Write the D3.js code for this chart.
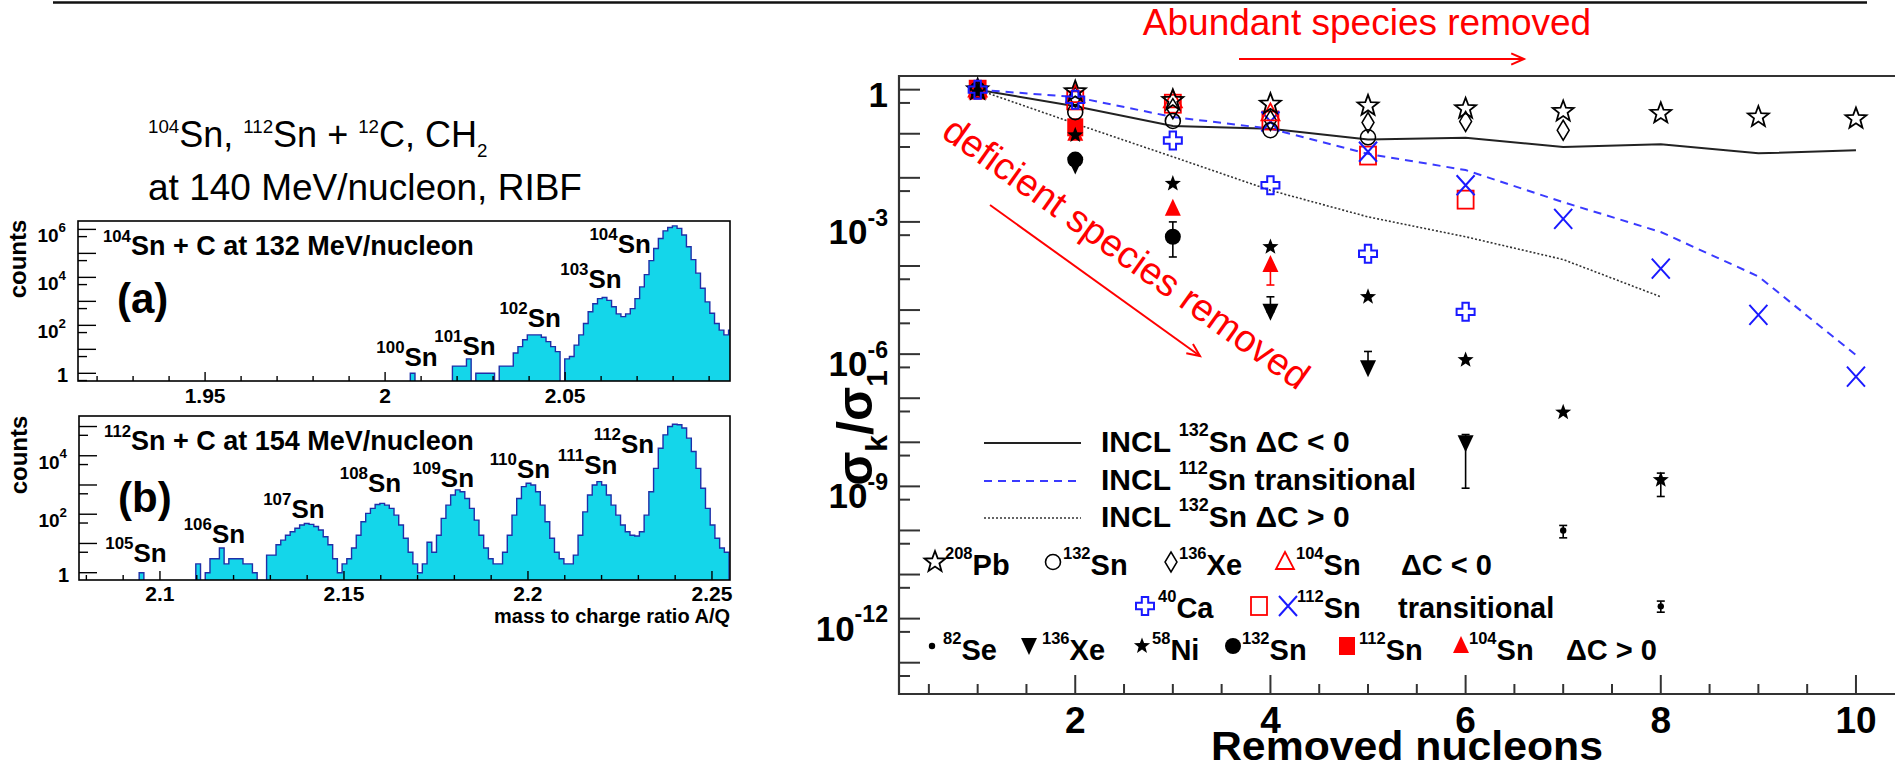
<!DOCTYPE html>
<html><head><meta charset="utf-8">
<script src="https://cdn.jsdelivr.net/npm/d3@7"></script>
<style>
html,body{margin:0;padding:0;background:#fff;overflow:hidden;}
svg{display:block;}
text{font-family:"Liberation Sans",Arial,Helvetica,sans-serif;}
</style></head><body>
<svg id="c" width="1895" height="769"></svg>
<script>
// ================= DATA =================
const removedNucleons = [1,2,3,4,5,6,7,8,9,10];
// Delta C < 0
const pb208Open   = [[1,1],[2,0.9],[3,0.57],[4,0.47],[5,0.43],[6,0.37],[7,0.32],[8,0.29],[9,0.24],[10,0.22]];
const sn132Open   = [[1,1],[2,0.31],[3,0.195],[4,0.12],[5,0.083]];
const xe136Open   = [[2,0.68],[3,0.37],[4,0.2],[5,0.18],[6,0.19],[7,0.12]];
const sn104Open   = [[1,1],[2,0.75],[3,0.57],[4,0.29]];
// transitional
const ca40Open    = [[1,1],[2,0.59],[3,0.07],[4,0.0068],[5,1.9e-4],[6,9.1e-6]];
const sn112Square = [[1,1],[2,0.57],[3,0.48],[4,0.2],[5,0.032],[6,0.0032]];
const sn112Cross  = [[4,0.19],[5,0.039],[6,0.0068],[7,0.00117],[8,8.7e-5],[9,7.8e-6],[10,3.1e-7]];
// Delta C > 0
const se82Dot     = [[7,1.0e-10],[8,1.9e-12]];
const se82Err     = [[7,6.8e-11,1.3e-10],[8,1.4e-12,2.5e-12]];
const xe136Filled = [[2,0.019],[4,9.1e-6],[5,4.8e-7],[6,9.5e-9]];
const xe136Err    = [[4,9.1e-6,2.0e-5],[5,4.8e-7,1.15e-6],[6,9.1e-10,1.5e-8]];
const ni58Filled  = [[1,1],[2,0.093],[3,7.4e-3],[4,2.7e-4],[5,2.0e-5],[6,7.4e-7],[7,4.8e-8],[8,1.4e-9]];
const ni58Err     = [[8,5.9e-10,2.0e-9]];
const sn132Filled = [[1,1],[2,0.026],[3,4.6e-4]];
const sn132Err    = [[3,1.6e-4,1.0e-3]];
const sn112Filled = [[1,1],[2,0.14]];
const sn104Filled = [[2,0.1],[3,2.0e-3],[4,1.05e-4]];
const sn104Err    = [[4,3.7e-5,1.05e-4]];
// INCL calculations
const inclSn132Neg   = [1,0.42,0.15,0.13,0.074,0.081,0.05,0.058,0.036,0.042];
const inclSn112Trans = [1,0.68,0.24,0.13,0.035,0.015,0.0028,5.9e-4,5.8e-5,9.5e-7];
const inclSn132Pos   = [1,0.17,0.03,0.0052,0.0013,4.6e-4,1.4e-4,2.0e-5];

const rightXTickLabels = [2,4,6,8,10];
const rightYTickExponents = [0,-3,-6,-9,-12];

// Left panel (a): 104Sn + C, A/Q histogram
const histAStart = 2.0070, histABin = 0.0013;
const histACounts = [1,0,0,0,0,0,0,0,0,2,2,2,4,0,1,1,1,1,0,2,2,2,7,13,25,40,40,40,32,21,13,8,0,4,5,15,40,120,370,800,1300,1450,1100,600,300,230,300,500,1300,4000,13000,50000,160000,420000,870000,1200000,1400000,1100000,580000,190000,55000,15000,3500,950,320,120,63,40,63];
const histATicks = [1.95,2,2.05];
const histAYExp = [0,2,4,6];
const histALabels = [["^{100}Sn",2.0061],["^{101}Sn",2.0222],["^{102}Sn",2.0403],["^{103}Sn",2.0572],["^{104}Sn",2.0653]];

// Left panel (b): 112Sn + C, A/Q histogram
const histBStart = 2.09435, histBBin = 0.0012824;
const histBCounts = [1,0,0,0,0,0,0,0,0,0,0,0,2,0,1,3,3,7,2,3,3,3,2,2,1,0,0,4,4,9,13,19,25,33,43,48,45,38,29,17,9,3,1,2,3,7,19,55,107,158,215,235,204,158,93,43,15,5,2,1,2,11,5,19,72,204,457,680,590,347,158,63,19,7,3,2,2,5,19,93,347,880,1150,1000,590,204,55,15,5,3,2,2,4,19,120,457,1000,1300,1000,457,204,93,43,25,19,18,25,93,590,3700,18000,52000,100000,120000,115000,89000,40000,14000,3700,775,158,43,15,7,5];
const histBTicks = [2.1,2.15,2.2,2.25];
const histBYExp = [0,2,4];
const histBLabels = [["^{105}Sn",2.0935],["^{106}Sn",2.1148],["^{107}Sn",2.1364],["^{108}Sn",2.1572],["^{109}Sn",2.177],["^{110}Sn",2.1978],["^{111}Sn",2.2162],["^{112}Sn",2.2261]];

// ================= HELPERS =================
const svg = d3.select('#c');
const FONT = '"Liberation Sans",Arial,Helvetica,sans-serif';

function parseRich(s){
  const out=[]; const re=/(\^\{[^}]*\}|_\{[^}]*\})/g; let last=0, m;
  while((m=re.exec(s))){ if(m.index>last) out.push({t:s.slice(last,m.index)});
    out.push({t:m[0].slice(2,-1), sup:m[0][0]==='^', sub:m[0][0]==='_'}); last=re.lastIndex; }
  if(last<s.length) out.push({t:s.slice(last)}); return out;
}
function rich(g, x, y, str, size, o={}){
  const t=g.append('text').attr('x',x).attr('y',y).attr('font-size',size)
    .attr('font-weight',o.weight||'bold').attr('fill',o.fill||'#000')
    .attr('text-anchor',o.anchor||'start').attr('font-family',FONT);
  if(o.transform) t.attr('transform',o.transform);
  const sc=o.supScale||0.58, up=o.supUp||0.5, dn=o.subDown||0.25;
  let cur=0;
  parseRich(str).forEach(p=>{
    let target=0, fs=size;
    if(p.sup){target=-size*up; fs=size*sc;}
    if(p.sub){target=size*dn; fs=size*sc;}
    t.append('tspan').attr('dy',target-cur).attr('font-size',fs).text(p.t);
    cur=target;
  });
  return t;
}

function starPath(R){
  const r=R*0.42, pts=[];
  for(let i=0;i<10;i++){const a=-Math.PI/2+i*Math.PI/5, rr=i%2?r:R; pts.push([rr*Math.cos(a), rr*Math.sin(a)]);}
  return 'M'+pts.map(p=>p[0].toFixed(2)+','+p[1].toFixed(2)).join('L')+'Z';
}
function crossPath(s,w){
  return `M${-w},${-s}L${w},${-s}L${w},${-w}L${s},${-w}L${s},${w}L${w},${w}L${w},${s}L${-w},${s}L${-w},${w}L${-s},${w}L${-s},${-w}L${-w},${-w}Z`;
}
function marker(g, type, cx, cy){
  const red='#ff0000', blue='#1a1aff';
  switch(type){
    case 'starOpen': g.append('path').attr('d',starPath(11)).attr('transform',`translate(${cx},${cy})`).attr('fill','none').attr('stroke','#000').attr('stroke-width',1.8); break;
    case 'starFilled': g.append('path').attr('d',starPath(8.5)).attr('transform',`translate(${cx},${cy})`).attr('fill','#000'); break;
    case 'circleOpen': g.append('circle').attr('cx',cx).attr('cy',cy).attr('r',7.5).attr('fill','none').attr('stroke','#000').attr('stroke-width',1.6); break;
    case 'circleFilled': g.append('circle').attr('cx',cx).attr('cy',cy).attr('r',8).attr('fill','#000'); break;
    case 'diamondOpen': g.append('path').attr('d','M0,-10L6,0L0,10L-6,0Z').attr('transform',`translate(${cx},${cy})`).attr('fill','none').attr('stroke','#000').attr('stroke-width',1.5); break;
    case 'triUpOpen': g.append('path').attr('d','M0,-10L9,7L-9,7Z').attr('transform',`translate(${cx},${cy})`).attr('fill','none').attr('stroke',red).attr('stroke-width',1.8); break;
    case 'triUpFilled': g.append('path').attr('d','M0,-10L8,7L-8,7Z').attr('transform',`translate(${cx},${cy})`).attr('fill',red); break;
    case 'triDownFilled': g.append('path').attr('d','M0,9L8,-8L-8,-8Z').attr('transform',`translate(${cx},${cy})`).attr('fill','#000'); break;
    case 'crossOpen': g.append('path').attr('d',crossPath(9,3.2)).attr('transform',`translate(${cx},${cy})`).attr('fill','none').attr('stroke',blue).attr('stroke-width',2); break;
    case 'squareOpen': g.append('rect').attr('x',cx-8).attr('y',cy-9).attr('width',16).attr('height',18).attr('fill','none').attr('stroke',red).attr('stroke-width',1.8); break;
    case 'squareFilled': g.append('rect').attr('x',cx-8).attr('y',cy-9).attr('width',16).attr('height',18).attr('fill',red); break;
    case 'xMark': g.append('path').attr('d','M-9,-10L9,10M9,-10L-9,10').attr('transform',`translate(${cx},${cy})`).attr('fill','none').attr('stroke',blue).attr('stroke-width',2); break;
    case 'dot': g.append('circle').attr('cx',cx).attr('cy',cy).attr('r',3.2).attr('fill','#000'); break;
  }
}

// ================= PAGE DECORATION =================
svg.append('line').attr('x1',53).attr('x2',1867).attr('y1',2.5).attr('y2',2.5).attr('stroke','#111').attr('stroke-width',2.5);
rich(svg,148,147,'^{104}Sn, ^{112}Sn + ^{12}C, CH_{2}',36,{weight:'normal',supScale:0.52,supUp:0.38,subDown:0.28});
svg.append('text').attr('x',148).attr('y',200).attr('font-size',37).attr('font-family',FONT).text('at 140 MeV/nucleon, RIBF');

// ================= LEFT HISTOGRAM PANELS =================
function histPanel(cfg){
  const g=svg.append('g');
  const x=d3.scaleLinear().domain(cfg.xDomain).range([cfg.left,cfg.right]);
  const y=d3.scaleLog().domain(cfg.yDomain).range([cfg.bottom,cfg.top]);
  const clipId='clip'+cfg.id;
  svg.append('clipPath').attr('id',clipId).append('rect').attr('x',cfg.left).attr('y',cfg.top).attr('width',cfg.right-cfg.left).attr('height',cfg.bottom-cfg.top);
  const yb=cfg.bottom+2;
  let d=`M${x(cfg.start)},${yb}`;
  cfg.counts.forEach((c,i)=>{
    const x0=x(cfg.start+i*cfg.bin), x1=x(cfg.start+(i+1)*cfg.bin);
    const yy=c>0?y(c):yb;
    d+=`L${x0},${yy}L${x1},${yy}`;
  });
  d+=`L${x(cfg.start+cfg.counts.length*cfg.bin)},${yb}Z`;
  g.append('path').attr('d',d).attr('clip-path',`url(#${clipId})`).attr('fill','#14d6ea').attr('stroke','#1f2fa8').attr('stroke-width',1.4);
  g.append('rect').attr('x',cfg.left).attr('y',cfg.top).attr('width',cfg.right-cfg.left).attr('height',cfg.bottom-cfg.top).attr('fill','none').attr('stroke','#000').attr('stroke-width',1.6);
  const lo=Math.floor(Math.log10(cfg.yDomain[0])), hi=Math.ceil(Math.log10(cfg.yDomain[1]));
  for(let e=lo;e<=hi;e++){
    [[Math.pow(10,e),18],[5*Math.pow(10,e),9]].forEach(([v,len])=>{
      if(v<cfg.yDomain[0]||v>cfg.yDomain[1]) return;
      g.append('line').attr('x1',cfg.left).attr('x2',cfg.left+len).attr('y1',y(v)).attr('y2',y(v)).attr('stroke','#000').attr('stroke-width',1.4);
    });
  }
  cfg.yExp.forEach(e=>{
    if(e===0) rich(g,cfg.left-10,y(1)+9,'1',20,{anchor:'end'});
    else rich(g,cfg.left-12,y(Math.pow(10,e))+13,'10^{'+e+'}',19,{anchor:'end',supScale:0.7,supUp:0.55});
  });
  const t0=Math.ceil(cfg.xDomain[0]*100), t1=Math.floor(cfg.xDomain[1]*100);
  for(let k=t0;k<=t1;k++){
    const v=k/100, major=(k%5===0);
    g.append('line').attr('x1',x(v)).attr('x2',x(v)).attr('y1',cfg.bottom).attr('y2',cfg.bottom-(major?9:5)).attr('stroke','#000').attr('stroke-width',1.4);
  }
  cfg.xTicks.forEach(v=>{
    g.append('text').attr('x',x(v)).attr('y',cfg.bottom+cfg.tickLabelDy).attr('text-anchor','middle').attr('font-size',21).attr('font-weight','bold').attr('font-family',FONT).text(String(v));
  });
  g.append('text').attr('transform',`translate(${cfg.countsX},${cfg.countsY}) rotate(-90)`).attr('text-anchor','middle').attr('font-size',24).attr('font-weight','bold').attr('font-family',FONT).text('counts');
  rich(g,cfg.left+25,cfg.headY,cfg.head,27,{supScale:0.62});
  g.append('text').attr('x',cfg.left+39).attr('y',cfg.letterY).attr('font-size',42).attr('font-weight','bold').attr('font-family',FONT).text(cfg.letter);
  cfg.labels.forEach(([lab,xv],i)=>{
    rich(g,x(xv),cfg.labelY[i],lab,26,{anchor:'middle',supScale:0.65,supUp:0.5});
  });
  return {x,y,g};
}

histPanel({id:'a',left:78,right:730,top:221,bottom:381,
  xDomain:[1.9147,2.0958], yDomain:[Math.pow(10,-0.32),Math.pow(10,6.35)],
  start:histAStart, bin:histABin, counts:histACounts, xTicks:histATicks, yExp:histAYExp, tickLabelDy:22,
  countsX:26,countsY:259, head:'^{104}Sn + C at 132 MeV/nucleon', headY:255, letter:'(a)', letterY:313,
  labels:histALabels, labelY:[366,355,327,288,253]});

const pb=histPanel({id:'b',left:79,right:730,top:416,bottom:580,
  xDomain:[2.078,2.2549], yDomain:[Math.pow(10,-0.25),Math.pow(10,5.36)],
  start:histBStart, bin:histBBin, counts:histBCounts, xTicks:histBTicks, yExp:histBYExp, tickLabelDy:21,
  countsX:27,countsY:455, head:'^{112}Sn + C at 154 MeV/nucleon', headY:450, letter:'(b)', letterY:512,
  labels:histBLabels, labelY:[562,543,518,492,487,478,474,453]});
pb.g.append('text').attr('x',730).attr('y',623).attr('text-anchor','end').attr('font-size',20).attr('font-weight','bold').attr('font-family',FONT).text('mass to charge ratio A/Q');

// ================= RIGHT PANEL =================
const R={left:899, right:1895, top:76, bottom:694};
const xs=d3.scaleLinear().domain([0.194,10.4]).range([R.left,R.right]);
const ys=d3.scaleLog().domain([Math.pow(10,0.31),Math.pow(10,-13.71)]).range([R.top,R.bottom]);
const rg=svg.append('g');
svg.append('clipPath').attr('id','clipR').append('rect').attr('x',R.left).attr('y',R.top).attr('width',R.right-R.left).attr('height',R.bottom-R.top);

rg.append('path').attr('d',`M${R.right+5},${R.top}L${R.left},${R.top}L${R.left},${R.bottom}L${R.right+5},${R.bottom}`).attr('fill','none').attr('stroke','#333').attr('stroke-width',2.2);
for(let e=0;e>=-14;e--){
  [[Math.pow(10,e),21],[5*Math.pow(10,e-1),11]].forEach(([v,len])=>{
    const yy=ys(v); if(yy<R.top||yy>R.bottom) return;
    rg.append('line').attr('x1',R.left).attr('x2',R.left+len).attr('y1',yy).attr('y2',yy).attr('stroke','#333').attr('stroke-width',2);
  });
}
rightYTickExponents.forEach(e=>{
  const yy=ys(Math.pow(10,e));
  if(e===0) rich(rg,888,yy+17,'1',35,{anchor:'end'});
  else rich(rg,888,yy+22,'10^{'+e+'}',35,{anchor:'end',supScale:0.66,supUp:0.52});
});
for(let v=0.5;v<=10.4;v+=0.5){
  const major=(v%2===0);
  rg.append('line').attr('x1',xs(v)).attr('x2',xs(v)).attr('y1',R.bottom).attr('y2',R.bottom-(major?19:10)).attr('stroke','#333').attr('stroke-width',2);
}
rightXTickLabels.forEach(v=>{
  rg.append('text').attr('x',xs(v)).attr('y',733).attr('text-anchor','middle').attr('font-size',37).attr('font-weight','bold').attr('font-family',FONT).text(v);
});
rg.append('text').attr('x',1407).attr('y',760).attr('text-anchor','middle').attr('font-size',40).attr('font-weight','bold').attr('font-family',FONT)
  .attr('textLength',392).attr('lengthAdjust','spacingAndGlyphs').text('Removed nucleons');
rich(rg,0,0,'σ_{k}/σ_{1}',50,{anchor:'middle',transform:'translate(872,428) rotate(-90)',supScale:0.6,subDown:0.3});

const pg=rg.append('g').attr('clip-path','url(#clipR)');
const line=d3.line().x(d=>xs(d[0])).y(d=>ys(d[1]));
pg.append('path').attr('d',line(inclSn132Neg.map((v,i)=>[removedNucleons[i],v]))).attr('fill','none').attr('stroke','#222').attr('stroke-width',2);
pg.append('path').attr('d',line(inclSn112Trans.map((v,i)=>[removedNucleons[i],v]))).attr('fill','none').attr('stroke','#3a3aff').attr('stroke-width',2).attr('stroke-dasharray','8,6');
pg.append('path').attr('d',line(inclSn132Pos.map((v,i)=>[removedNucleons[i],v]))).attr('fill','none').attr('stroke','#333').attr('stroke-width',1.6).attr('stroke-dasharray','2,2');

function errBars(arr,color){
  arr.forEach(([xv,lo,hi])=>{
    const X=xs(xv);
    pg.append('line').attr('x1',X).attr('x2',X).attr('y1',ys(lo)).attr('y2',ys(hi)).attr('stroke',color).attr('stroke-width',1.6);
    [lo,hi].forEach(v=>pg.append('line').attr('x1',X-4).attr('x2',X+4).attr('y1',ys(v)).attr('y2',ys(v)).attr('stroke',color).attr('stroke-width',1.6));
  });
}
errBars(se82Err,'#000'); errBars(xe136Err,'#000'); errBars(ni58Err,'#000'); errBars(sn132Err,'#000'); errBars(sn104Err,'#ff0000');

function series(arr,type){ arr.forEach(([xv,v])=>marker(pg,type,xs(xv),ys(v))); }
series(sn112Filled,'squareFilled');
series(sn104Filled,'triUpFilled');
series(sn132Filled,'circleFilled');
series(xe136Filled,'triDownFilled');
series(ni58Filled,'starFilled');
series(se82Dot,'dot');
series(sn112Square,'squareOpen');
series(sn112Cross,'xMark');
series(sn132Open,'circleOpen');
series(xe136Open,'diamondOpen');
series(sn104Open,'triUpOpen');
series(pb208Open,'starOpen');
series(ca40Open,'crossOpen');

const lineLeg=[
  {y:443, stroke:'#222', dash:null, w:2, txt:'INCL ^{132}Sn ΔC < 0'},
  {y:481, stroke:'#3a3aff', dash:'8,6', w:2, txt:'INCL ^{112}Sn transitional'},
  {y:518, stroke:'#333', dash:'2,2', w:1.6, txt:'INCL ^{132}Sn ΔC > 0'}
];
lineLeg.forEach(l=>{
  const ln=rg.append('line').attr('x1',984).attr('x2',1081).attr('y1',l.y).attr('y2',l.y).attr('stroke',l.stroke).attr('stroke-width',l.w);
  if(l.dash) ln.attr('stroke-dasharray',l.dash);
  rich(rg,1101,l.y+9,l.txt,30,{supScale:0.6,supUp:0.55});
});
const legRows=[
  {y:575, my:562, items:[['starOpen',935,945,'^{208}Pb'],['circleOpen',1053,1063,'^{132}Sn'],['diamondOpen',1171,1179,'^{136}Xe'],['triUpOpen',1285,1296,'^{104}Sn'],[null,0,1401,'ΔC < 0']]},
  {y:618, my:606, items:[['crossOpen',1145,1158,'^{40}Ca'],['squareOpen',1259,0,''],['xMark',1288,1297,'^{112}Sn'],[null,0,1398,'transitional']]},
  {y:660, my:646, items:[['dot',932,943,'^{82}Se'],['triDownFilled',1029,1042,'^{136}Xe'],['starFilled',1142,1152,'^{58}Ni'],['circleFilled',1233,1242,'^{132}Sn'],['squareFilled',1347,1359,'^{112}Sn'],['triUpFilled',1461,1469,'^{104}Sn'],[null,0,1566,'ΔC > 0']]}
];
legRows.forEach(r=>{
  r.items.forEach(([m,mx,tx,txt])=>{
    if(m) marker(rg,m,mx,r.my);
    if(txt) rich(rg,tx,r.y,txt,29,{supScale:0.57,supUp:0.55});
  });
});

// ================= RED ANNOTATIONS =================
const ann=svg.append('g');
ann.append('text').attr('x',1367).attr('y',35).attr('text-anchor','middle').attr('font-size',37).attr('fill','#ff0000').attr('font-family',FONT).text('Abundant species removed');
function arrow(x1,y1,x2,y2){
  ann.append('line').attr('x1',x1).attr('y1',y1).attr('x2',x2).attr('y2',y2).attr('stroke','#ff0000').attr('stroke-width',2);
  const a=Math.atan2(y2-y1,x2-x1), L=14, s=0.42;
  const p1=[x2-L*Math.cos(a-s),y2-L*Math.sin(a-s)], p2=[x2-L*Math.cos(a+s),y2-L*Math.sin(a+s)];
  ann.append('path').attr('d',`M${p1}L${x2},${y2}L${p2}`).attr('fill','none').attr('stroke','#ff0000').attr('stroke-width',2);
}
arrow(1239,59,1524,59);
arrow(990,205,1200,356);
ann.append('text').attr('transform','translate(940,136) rotate(35.5)').attr('font-size',38).attr('fill','#ff0000').attr('font-family',FONT).text('deficient species removed');
</script>
</body></html>
